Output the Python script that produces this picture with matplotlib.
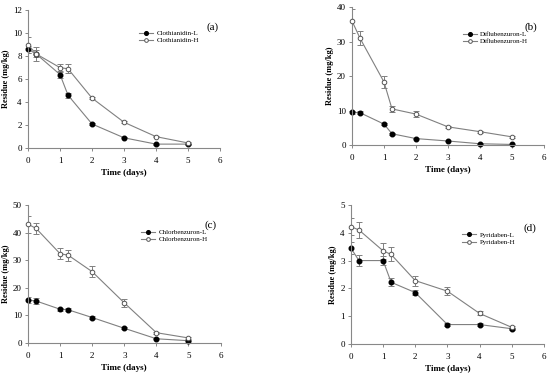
import numpy as np
import matplotlib
matplotlib.use('Agg')
import matplotlib.pyplot as plt

# sampling days
days = [0, 0.25, 1, 1.25, 2, 3, 4, 5]

# (a) clothianidin
clo_L = [8.6, 8.2, 6.4, 4.6, 2.1, 0.9, 0.35, 0.35]
clo_L_err = [0.3, 0.6, 0.3, 0.2, 0.1, 0.05, 0.05, 0.05]
clo_H = [9.0, 8.2, 7.0, 6.9, 4.35, 2.25, 1.0, 0.45]
clo_H_err = [0.7, 0.3, 0.35, 0.4, 0.1, 0.1, 0.05, 0.05]

# (b) diflubenzuron
dif_L = [9.5, 9.4, 6.1, 3.3, 1.9, 1.2, 0.4, 0.2]
dif_L_err = [0.5, 0.5, 0.4, 0.3, 0.2, 0.1, 0.1, 0.1]
dif_H = [36.0, 31.0, 18.3, 10.5, 9.0, 5.3, 3.9, 2.4]
dif_H_err = [3.5, 2.0, 1.8, 0.8, 0.8, 0.3, 0.3, 0.2]

# (c) chlorbenzuron
chl_L = [15.5, 15.2, 12.2, 12.0, 9.2, 5.3, 1.5, 0.8]
chl_L_err = [1.0, 1.0, 0.6, 0.5, 0.5, 0.4, 0.2, 0.2]
chl_H = [43.0, 41.5, 32.3, 31.8, 25.8, 14.5, 3.7, 1.8]
chl_H_err = [3.0, 2.0, 2.0, 2.0, 2.0, 1.5, 0.4, 0.3]

# (d) pyridaben
pyr_L = [3.45, 3.0, 3.0, 2.22, 1.85, 0.7, 0.7, 0.55]
pyr_L_err = [0.2, 0.2, 0.15, 0.15, 0.1, 0.04, 0.04, 0.04]
pyr_H = [4.22, 4.1, 3.35, 3.22, 2.28, 1.9, 1.1, 0.6]
pyr_H_err = [0.3, 0.3, 0.28, 0.25, 0.18, 0.15, 0.07, 0.05]

panels = [
    ('(a)', 'Clothianidin', clo_L, clo_L_err, clo_H, clo_H_err, 12, 2,
     [0.051, 0.606, 0.349, 0.367], (0.56, 0.88), (0.96, 0.88)),
    ('(b)', 'Diflubenzuron', dif_L, dif_L_err, dif_H, dif_H_err, 40, 10,
     [0.640, 0.614, 0.349, 0.367], (0.56, 0.85), (0.93, 0.855)),
    ('(c)', 'Chlorbenzuron', chl_L, chl_L_err, chl_H, chl_H_err, 50, 10,
     [0.051, 0.088, 0.350, 0.367], (0.57, 0.85), (0.95, 0.85)),
    ('(d)', 'Pyridaben', pyr_L, pyr_L_err, pyr_H, pyr_H_err, 5, 1,
     [0.638, 0.085, 0.351, 0.370], (0.56, 0.83), (0.93, 0.83)),
]

plt.rcParams['font.family'] = 'Liberation Serif'
fig = plt.figure(figsize=(5.5, 3.76), dpi=100)
line_c = '#808080'

for tag, name, yl, el, yh, eh, ymax, ystep, pos, legpos, tagpos in panels:
    ax = fig.add_axes(pos)
    for y, e in [(yl, el), (yh, eh)]:
        ax.errorbar(days, y, yerr=e, fmt='none', ecolor=line_c,
                    elinewidth=0.7, capsize=2, capthick=0.7, zorder=1)
    ax.plot(days, yl, '-o', color=line_c, lw=0.8, ms=3.3, mfc='black',
            mec='black', label=name + '-L', zorder=2, clip_on=False)
    ax.plot(days, yh, '-o', color=line_c, lw=0.8, ms=3.3, mfc='white',
            mec='#555555', mew=0.7, label=name + '-H', zorder=3,
            clip_on=False)
    ax.set_xlim(0, 6)
    ax.set_ylim(0, ymax)
    ax.set_xticks(range(0, 7))
    ax.set_yticks(np.arange(0, ymax + ystep / 2, ystep))
    for s in ['top', 'right']:
        ax.spines[s].set_visible(False)
    for s in ['left', 'bottom']:
        ax.spines[s].set_color('#888888')
        ax.spines[s].set_linewidth(0.8)
    ax.tick_params(labelsize=6.5, length=2.5, width=0.7, color='#888888')
    ax.tick_params(axis='x', pad=4)
    ax.tick_params(axis='y', pad=2)
    ax.set_xlabel('Time (days)', fontsize=6.5, fontweight='bold', labelpad=3)
    ax.set_ylabel('Residue (mg/kg)', fontsize=6, fontweight='bold',
                  labelpad=2)
    ax.legend(loc='upper left', bbox_to_anchor=legpos, frameon=False,
              fontsize=5, handlelength=2, handletextpad=0.5,
              labelspacing=0.2, borderpad=0, markerscale=0.8)
    ax.text(tagpos[0], tagpos[1], tag, transform=ax.transAxes, fontsize=8,
            ha='center', va='center')

fig.savefig('out.png', dpi=100)
